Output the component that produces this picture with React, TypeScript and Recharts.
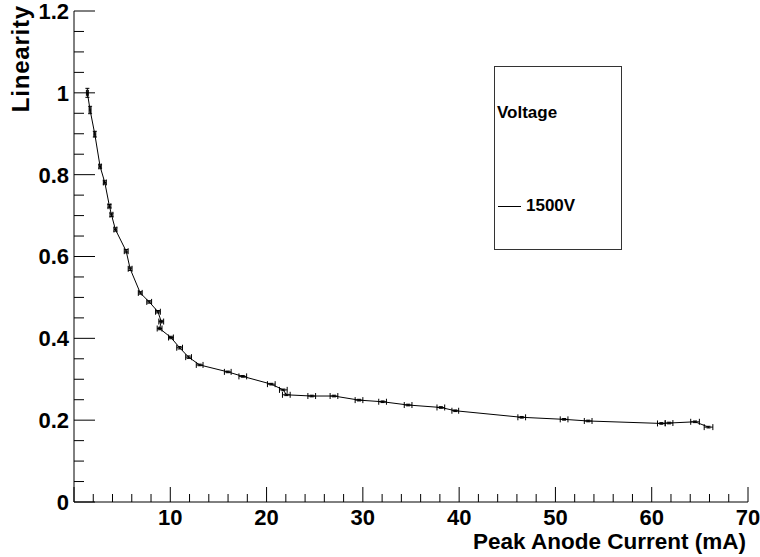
import { ScatterChart, Scatter, XAxis, YAxis, ErrorBar, Legend, Label } from "recharts";

// peak anode current (mA) and measured linearity, in measurement order
const current = [1.39, 1.67, 2.16, 2.71, 3.2, 3.68, 3.89, 4.3, 5.42, 5.83,
  6.88, 7.81, 8.72, 9.06, 8.89, 10.07, 10.97, 11.9, 13.05, 15.97,
  17.53, 20.49, 21.74, 22.05, 24.69, 27.0, 29.6, 32.05, 34.7, 38.1,
  39.6, 46.5, 50.9, 53.4, 61.0, 61.8, 64.5, 65.9];
const linearity = [1.0, 0.958, 0.899, 0.82, 0.781, 0.723, 0.702, 0.666, 0.613, 0.57,
  0.511, 0.489, 0.465, 0.441, 0.424, 0.402, 0.377, 0.354, 0.335, 0.318,
  0.307, 0.288, 0.274, 0.262, 0.259, 0.259, 0.249, 0.245, 0.237, 0.231,
  0.223, 0.207, 0.202, 0.198, 0.192, 0.193, 0.196, 0.183];
const currentErr = [0.1, 0.1, 0.1, 0.12, 0.15, 0.15, 0.15, 0.15, 0.2, 0.2,
  0.2, 0.25, 0.25, 0.25, 0.25, 0.25, 0.3, 0.3, 0.35, 0.35,
  0.4, 0.4, 0.4, 0.4, 0.4, 0.4, 0.4, 0.4, 0.4, 0.4,
  0.35, 0.4, 0.4, 0.4, 0.4, 0.4, 0.45, 0.45];
const linearityErr = [0.011, 0.009, 0.007, 0.004, 0.004, 0.004, 0.004, 0.004, 0.004, 0.004,
  0.003, 0.003, 0.003, 0.003, 0.003, 0.003, 0.003, 0.003, 0.002, 0.002,
  0.002, 0.002, 0.002, 0.002, 0.002, 0.002, 0.002, 0.002, 0.002, 0.002,
  0.002, 0.002, 0.002, 0.002, 0.002, 0.002, 0.002, 0.002];

const xMajor = [0, 10, 20, 30, 40, 50, 60, 70];
const yMajor = [0, 0.2, 0.4, 0.6, 0.8, 1, 1.2];
const xTicks = Array.from({ length: 36 }, (_, i) => i * 2);
const yTicks = Array.from({ length: 25 }, (_, i) => Math.round(i * 5) / 100);

const seriesName = "1500V";
const legendTitle = "Voltage";
const xTitle = "Peak Anode Current (mA)";
const yTitle = "Linearity";

const data = current.map((c, i) => ({
  current: c,
  linearity: linearity[i],
  ex: currentErr[i],
  ey: linearityErr[i],
}));

const FONT = "'Liberation Sans', Arial, sans-serif";

const isMajor = (v, list) => list.some((m) => Math.abs(m - v) < 1e-6);

const XTick = (props) => {
  const { x, y, payload } = props;
  const major = isMajor(payload.value, xMajor);
  return (
    <g>
      <line x1={x} x2={x} y1={y} y2={y - (major ? 15 : 8)} stroke="#000" />
      {major && payload.value !== 0 && (
        <text x={x} y={y + 23} textAnchor="middle" fontFamily={FONT}
          fontWeight="bold" fontSize={22} fill="#000">
          {payload.value}
        </text>
      )}
    </g>
  );
};

const YTick = (props) => {
  const { x, y, payload } = props;
  const major = isMajor(payload.value, yMajor);
  return (
    <g>
      <line x1={x} x2={x + (major ? 21 : 10)} y1={y} y2={y} stroke="#000" />
      {major && (
        <text x={x - 5} y={y} dy="0.36em" textAnchor="end" fontFamily={FONT}
          fontWeight="bold" fontSize={22} fill="#000">
          {String(payload.value)}
        </text>
      )}
    </g>
  );
};

const LegendBox = ({ payload }) => {
  const name = payload && payload.length ? payload[0].value : seriesName;
  return (
    <div style={{
      position: 'relative', width: 128, height: 184, boxSizing: 'border-box',
      border: '1px solid #333', background: '#fff', fontFamily: FONT,
      fontWeight: 'bold', fontSize: 17, color: '#000',
    }}>
      <div style={{ position: 'absolute', left: 2, top: 36 }}>{legendTitle}</div>
      <div style={{ position: 'absolute', left: 3, top: 129, display: 'flex', alignItems: 'center' }}>
        <div style={{ width: 23, height: 1, background: '#000' }} />
        <span style={{ marginLeft: 5 }}>{name}</span>
      </div>
    </div>
  );
};

const App = () => {
  return (
    <div style={{ position: 'absolute', left: 0, top: 0, background: '#fff' }}>
      <ScatterChart width={760} height={557}
        margin={{ top: 11, right: 12, bottom: 0, left: 0 }}>
        <XAxis dataKey="current" type="number" domain={[0, 70]} ticks={xTicks}
          interval={0} allowDataOverflow height={55} tickSize={0} tickMargin={0}
          tickLine={false} axisLine={{ stroke: '#000' }} tick={<XTick />}>
          <Label content={({ viewBox }) => (
            <text x={viewBox.x + viewBox.width - 2} y={viewBox.y + 47} textAnchor="end"
              fontFamily={FONT} fontWeight="bold" fontSize={22.5} fill="#000">
              {xTitle}
            </text>
          )} />
        </XAxis>
        <XAxis xAxisId="top" orientation="top" type="number" domain={[0, 70]}
          height={0} tick={false} tickLine={false} axisLine={{ stroke: '#888' }} />
        <YAxis dataKey="linearity" type="number" domain={[0, 1.2]} ticks={yTicks}
          interval={0} allowDataOverflow width={74} tickSize={0} tickMargin={0}
          tickLine={false} axisLine={{ stroke: '#000' }} tick={<YTick />}>
          <Label content={() => (
            <text x={29} y={5} transform="rotate(-90 29 5)" textAnchor="end"
              fontFamily={FONT} fontWeight="bold" fontSize={24} letterSpacing={0.8} fill="#000">
              {yTitle}
            </text>
          )} />
        </YAxis>
        <YAxis yAxisId="right" orientation="right" type="number" domain={[0, 1.2]}
          width={0} tick={false} tickLine={false} axisLine={{ stroke: '#888', strokeWidth: 2 }} />
        <Legend layout="horizontal" verticalAlign="middle" align="center"
          wrapperStyle={{ position: 'absolute', left: 494, top: 66, width: 128, height: 184 }}
          content={<LegendBox />} />
        <Scatter name={seriesName} data={data} isAnimationActive={false}
          line={{ stroke: '#000', strokeWidth: 1 }} shape={() => <g />}>
          <ErrorBar dataKey="ex" direction="x" width={3} stroke="#000" strokeWidth={1} />
          <ErrorBar dataKey="ey" direction="y" width={2} stroke="#000" strokeWidth={1} />
        </Scatter>
      </ScatterChart>
    </div>
  );
};

export default App;
